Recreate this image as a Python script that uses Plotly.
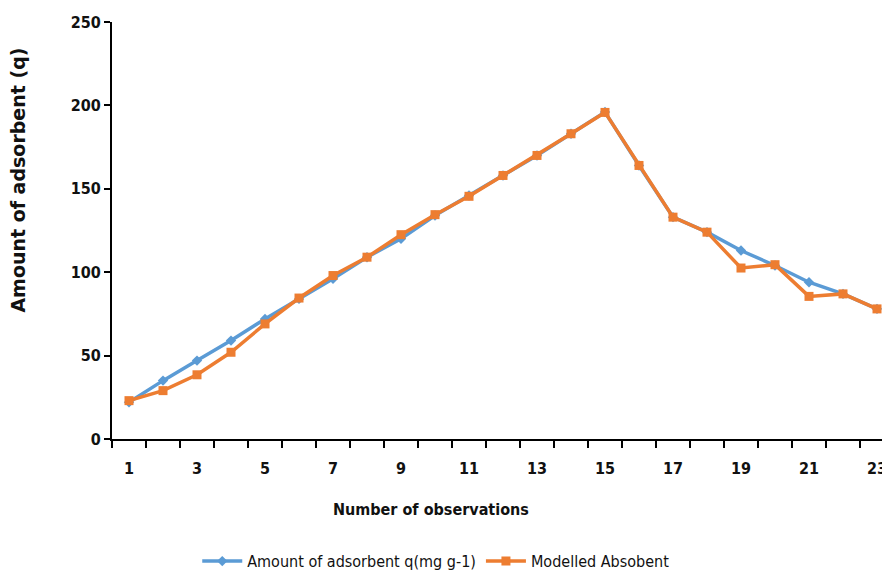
import plotly.graph_objects as go

observations = list(range(1, 24))
measured_q = [22, 35, 47, 59, 72, 84, 96, 109, 120, 134, 146, 158, 170, 183, 196,
              164, 133, 124, 113, 104, 94, 87, 78]
modelled_q = [23, 29, 38.5, 52, 69, 84.5, 98, 109, 122.5, 134.5, 145.5, 158, 170, 183, 195.8,
              164, 133, 124, 102.5, 104.5, 85.5, 87, 78]
x_tick_labels = [str(v) for v in range(1, 24, 2)]
y_ticks = [0, 50, 100, 150, 200, 250]

NARROW = "DejaVu Sans Condensed, Liberation Sans Narrow, Liberation Sans, sans-serif"

fig = go.Figure()
fig.add_trace(go.Scatter(
    x=observations, y=measured_q, mode="lines+markers",
    name="Amount of adsorbent q(mg g-1)",
    line=dict(color="#5B9BD5", width=3.5),
    marker=dict(symbol="diamond", size=8, color="#5B9BD5"),
))
fig.add_trace(go.Scatter(
    x=observations, y=modelled_q, mode="lines+markers",
    name="Modelled Absobent",
    line=dict(color="#ED7D31", width=3.5),
    marker=dict(symbol="square", size=9, color="#ED7D31"),
))

fig.update_layout(
    width=890, height=574,
    margin=dict(l=104, r=4, t=14, b=138),
    paper_bgcolor="white", plot_bgcolor="white",
    showlegend=True,
    legend=dict(orientation="h", x=0.414, xanchor="center", y=-0.293, yanchor="middle",
                font=dict(family=NARROW, size=16, color="#111111"),
                itemwidth=40, tracegroupgap=0),
    xaxis=dict(
        range=[0.5, 23.5], automargin=False,
        tickmode="array", tickvals=list(range(1, 24, 2)), ticktext=x_tick_labels,
        ticks="", showgrid=False, zeroline=False, ticklabelstandoff=14,
        showline=True, linecolor="black", linewidth=2,
        tickfont=dict(family=NARROW, size=16, color="#111111", weight="bold"),
        minor=dict(tickvals=[v + 0.5 for v in range(0, 24)], ticks="outside",
                   ticklen=7, tickwidth=1.5, tickcolor="black", showgrid=False),
    ),
    yaxis=dict(
        range=[0, 250], tickvals=y_ticks, automargin=False,
        ticks="outside", ticklen=6, tickwidth=1.5, tickcolor="black",
        showgrid=False, zeroline=False,
        showline=True, linecolor="black", linewidth=2,
        tickfont=dict(family=NARROW, size=16, color="#111111", weight="bold"),
    ),
    annotations=[
        dict(text="Number of observations", xref="paper", yref="paper",
             x=0.408, y=-0.170, xanchor="center", yanchor="middle", showarrow=False,
             font=dict(family=NARROW, size=16, color="#111111", weight="bold")),
        dict(text="Amount of adsorbent (q)", xref="paper", yref="paper",
             x=-0.120, y=0.620, xanchor="center", yanchor="middle", showarrow=False,
             textangle=-90,
             font=dict(family="DejaVu Sans, sans-serif", size=19, color="#111111", weight="bold")),
    ],
)

fig.write_html("out.html")
